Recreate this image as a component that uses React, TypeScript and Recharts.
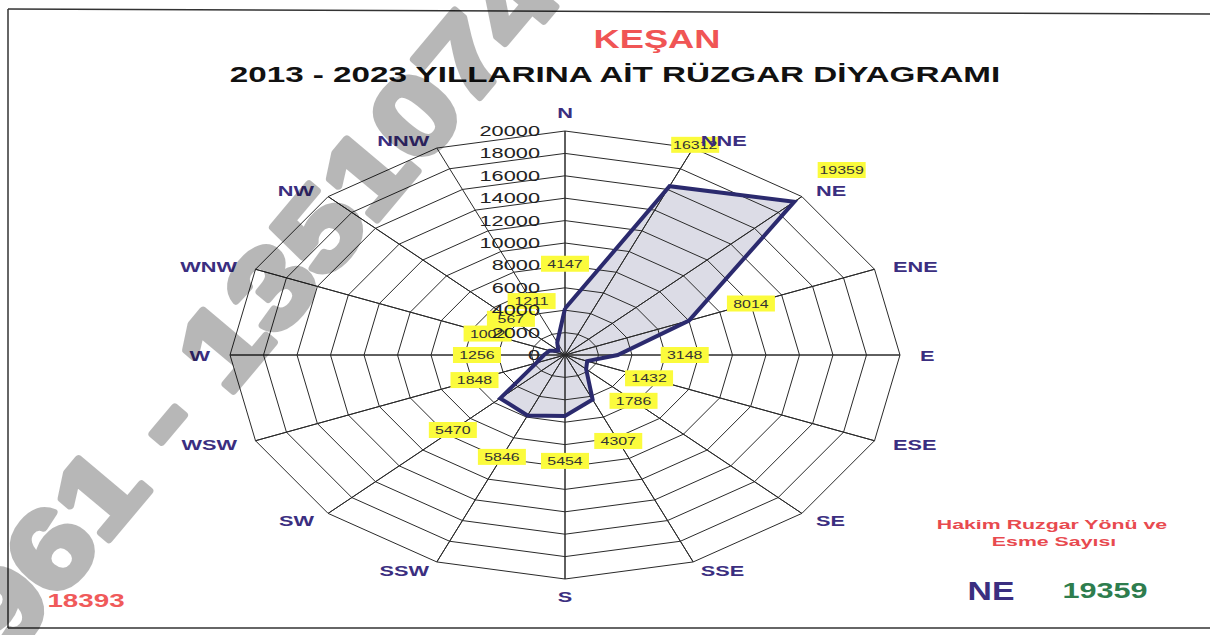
import React from 'react'
import { ScatterChart, Scatter, XAxis, YAxis, Polygon } from 'recharts'

// wind directions, clockwise from north
const directions = ['N', 'NNE', 'NE', 'ENE', 'E', 'ESE', 'SE', 'SSE', 'S', 'SSW', 'SW', 'WSW', 'W', 'WNW', 'NW', 'NNW']
// number of occurrences per direction (2013 - 2023)
const counts = [4147, 16312, 19359, 8014, 3148, 1432, 1786, 4307, 5454, 5846, 5470, 1848, 1256, 1002, 567, 1211]
const radialTicks = [0, 2000, 4000, 6000, 8000, 10000, 12000, 14000, 16000, 18000, 20000]
const maxRadius = 20000
const labelGap = 4000

const W = 1210
const H = 635
// the old chart is stretched sideways, so the grid is an ellipse
const CX = 565
const CY = 355
const RX = 335
const RY = 224

const xDomain = [(-CX / RX) * maxRadius, ((W - CX) / RX) * maxRadius]
const yDomain = [(-(H - CY) / RY) * maxRadius, (CY / RY) * maxRadius]

const FONT = '"Liberation Sans", Arial, sans-serif'
const NAVY = '#3b2e80'

const angleOf = (i: number) => (i * 2 * Math.PI) / directions.length
const polar = (r: number, i: number) => ({ x: r * Math.sin(angleOf(i)), y: r * Math.cos(angleOf(i)) })

const rings = radialTicks.slice(1).map((r) => [...directions.map((_, i) => polar(r, i)), polar(r, 0)])
const spokes = directions.flatMap((_, i) => [polar(0, i), polar(maxRadius, i)])
const windShape = [...counts.map((v, i) => polar(v, i)), polar(counts[0], 0)]
const valueLabels = counts.map((v, i) => ({ ...polar(v + labelGap, i), text: String(v) }))
const dirLabels = directions.map((d, i) => ({ ...polar(maxRadius, i), text: d, i }))
const tickLabels = radialTicks.map((t) => ({ x: 0, y: t, text: String(t) }))

function Wide({ x, y, anchor = 'middle', size, weight = 700, color, sx = 1.45, children }: any) {
  return (
    <text
      transform={`translate(${x},${y}) scale(${sx},1)`}
      textAnchor={anchor}
      fontSize={size}
      fontWeight={weight}
      fill={color}
      fontFamily={FONT}
    >
      {children}
    </text>
  )
}

const Nothing = () => <g />

function ValueLabel({ cx, cy, payload }: any) {
  return (
    <g>
      <rect x={cx - 24} y={cy - 8} width={48} height={16} fill="#fbfb3c" />
      <Wide x={cx} y={cy + 4} size={11} weight={400} color="#333">{payload.text}</Wide>
    </g>
  )
}

function DirLabel({ cx, cy, payload }: any) {
  const a = angleOf(payload.i)
  const s = Math.sin(a)
  const c = Math.cos(a)
  const side = Math.abs(s) < 0.01
  const anchor = side ? 'middle' : s > 0 ? 'start' : 'end'
  const dy = side ? -c * 18 : -c * 9 + 1
  return (
    <Wide x={cx + s * 20} y={cy + dy + 5} anchor={anchor} size={15} color={NAVY}>
      {payload.text}
    </Wide>
  )
}

function TickLabel({ cx, cy, payload }: any) {
  return (
    <Wide x={cx - 25} y={cy + 5} anchor="end" size={15} weight={400} color="#222">
      {payload.text}
    </Wide>
  )
}

export default function App() {
  return (
    <div style={{ position: 'absolute', left: 0, top: 0, width: W, height: H, background: '#fff', overflow: 'hidden' }}>
      <svg width={W} height={H} style={{ position: 'absolute', left: 0, top: 0 }}>
        <line x1={8} y1={9} x2={W} y2={14} stroke="#333" strokeWidth={1.5} />
        <line x1={8} y1={9} x2={8} y2={628} stroke="#333" strokeWidth={1.5} />
        <line x1={8} y1={628} x2={W} y2={628} stroke="#333" strokeWidth={1.5} />
        <Wide x={657} y={48} size={25} color="#f05555">KEŞAN</Wide>
        <Wide x={615} y={82} size={22} color="#111" sx={1.51}>2013 - 2023 YILLARINA AİT RÜZGAR DİYAGRAMI</Wide>
        <Wide x={1052} y={529} size={13} color="#e84a4f" sx={1.64}>Hakim Ruzgar Yönü ve</Wide>
        <Wide x={1054} y={546} size={13} color="#e84a4f" sx={1.64}>Esme Sayısı</Wide>
        <Wide x={991} y={600} size={25} color={NAVY} sx={1.35}>NE</Wide>
        <Wide x={1105} y={598} size={22} color="#2e7d4e" sx={1.39}>19359</Wide>
        <Wide x={86} y={607} size={19} color="#f05a5a" sx={1.46}>18393</Wide>
      </svg>

      <div style={{ position: 'absolute', left: 0, top: 0 }}>
        <ScatterChart width={W} height={H} margin={{ top: 0, right: 0, bottom: 0, left: 0 }}>
          <XAxis type="number" dataKey="x" domain={xDomain} allowDataOverflow hide />
          <YAxis type="number" dataKey="y" domain={yDomain} allowDataOverflow hide />

          <Scatter
            data={windShape}
            shape={Nothing}
            line={(p: any) => <Polygon points={p.points} fill="#dcdce6" stroke="none" />}
            isAnimationActive={false}
          />
          {rings.map((ring, k) => (
            <Scatter
              key={k}
              data={ring}
              shape={Nothing}
              line={{ stroke: '#2a2a2a', strokeWidth: 1 }}
              isAnimationActive={false}
            />
          ))}
          <Scatter data={spokes} shape={Nothing} line={{ stroke: '#2a2a2a', strokeWidth: 1 }} isAnimationActive={false} />
          <Scatter
            data={windShape}
            shape={Nothing}
            line={{ stroke: '#2b2a6e', strokeWidth: 4, strokeLinejoin: 'miter' }}
            isAnimationActive={false}
          />
          <Scatter data={valueLabels} shape={ValueLabel} isAnimationActive={false} />
          <Scatter data={tickLabels} shape={TickLabel} isAnimationActive={false} />
          <Scatter data={dirLabels} shape={DirLabel} isAnimationActive={false} />
        </ScatterChart>
      </div>

      <svg width={W} height={H} style={{ position: 'absolute', left: 0, top: 0, pointerEvents: 'none' }}>
        <g opacity={0.28}>
          <text
            transform="translate(8,660) rotate(-50)"
            fontSize={110}
            fontWeight={700}
            fontFamily={FONT}
            fill="#000"
            stroke="#000"
            strokeWidth={7}
            strokeLinejoin="round"
            textLength={865}
            lengthAdjust="spacingAndGlyphs"
          >
            961 - 1351074
          </text>
        </g>
      </svg>
    </div>
  )
}
